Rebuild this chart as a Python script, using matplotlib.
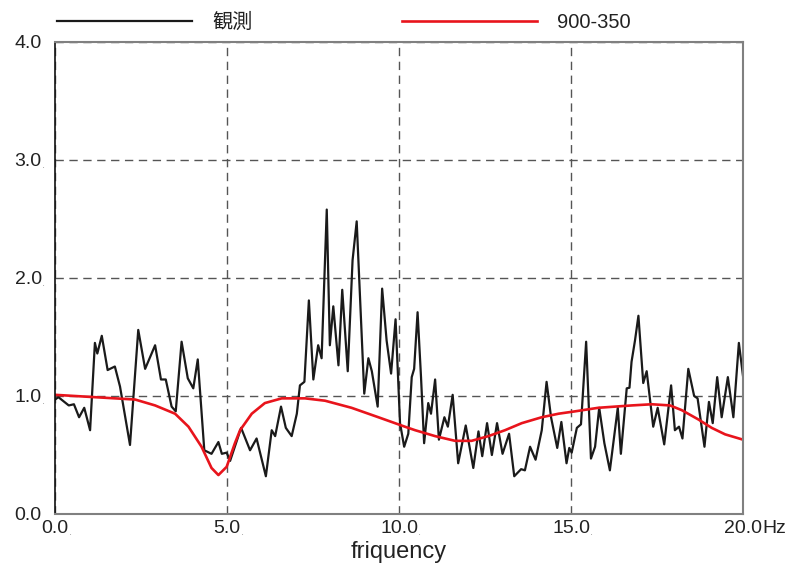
import matplotlib
matplotlib.use('Agg')
import matplotlib.pyplot as plt

plt.rcParams['font.family'] = ['Liberation Sans', 'Noto Sans CJK JP', 'DejaVu Sans']

# 観測 (observed spectrum)
obs_freq = [0.00, 0.10, 0.40, 0.55, 0.70, 0.85, 1.02, 1.16, 1.23, 1.36, 1.53, 1.74, 1.89, 2.18,
            2.42, 2.62, 2.91, 3.08, 3.22, 3.39, 3.51, 3.68, 3.86, 4.02, 4.15, 4.34, 4.55, 4.75,
            4.85, 4.99, 5.09, 5.41, 5.67, 5.86, 6.13, 6.30, 6.40, 6.57, 6.71, 6.88, 7.03, 7.12,
            7.25, 7.38, 7.51, 7.65, 7.75, 7.90, 7.99, 8.09, 8.24, 8.35, 8.51, 8.65, 8.77, 8.99,
            9.11, 9.21, 9.38, 9.51, 9.64, 9.77, 9.90, 10.03, 10.15, 10.27, 10.37, 10.44, 10.54,
            10.64, 10.73, 10.85, 10.93, 11.05, 11.16, 11.32, 11.42, 11.56, 11.72, 11.94, 12.16,
            12.31, 12.42, 12.56, 12.70, 12.85, 13.01, 13.20, 13.35, 13.55, 13.66, 13.81, 13.97,
            14.15, 14.29, 14.42, 14.60, 14.72, 14.87, 14.95, 15.02, 15.17, 15.29, 15.44, 15.58,
            15.70, 15.82, 15.97, 16.13, 16.36, 16.45, 16.62, 16.70, 16.76, 16.86, 16.96, 17.10,
            17.20, 17.39, 17.52, 17.71, 17.91, 18.02, 18.14, 18.24, 18.41, 18.58, 18.68, 18.88,
            19.01, 19.12, 19.25, 19.38, 19.56, 19.72, 19.88, 20.00]
obs_amp = [0.97, 0.99, 0.92, 0.93, 0.82, 0.90, 0.71, 1.45, 1.36, 1.51, 1.22, 1.25, 1.08, 0.585,
           1.56, 1.23, 1.43, 1.14, 1.14, 0.91, 0.87, 1.46, 1.15, 1.065, 1.31, 0.54, 0.51, 0.61,
           0.51, 0.52, 0.45, 0.73, 0.54, 0.64, 0.32, 0.71, 0.66, 0.91, 0.73, 0.66, 0.85, 1.09,
           1.12, 1.81, 1.14, 1.43, 1.32, 2.58, 1.43, 1.76, 1.26, 1.90, 1.21, 2.15, 2.48, 1.02,
           1.32, 1.21, 0.91, 1.91, 1.47, 1.19, 1.65, 0.77, 0.57, 0.68, 1.16, 1.23, 1.71,
           1.16, 0.60, 0.94, 0.85, 1.14, 0.63, 0.82, 0.74, 1.01, 0.43, 0.75, 0.39,
           0.70, 0.49, 0.77, 0.50, 0.77, 0.51, 0.68, 0.32, 0.38, 0.37, 0.57, 0.46,
           0.71, 1.12, 0.82, 0.56, 0.78, 0.43, 0.56, 0.52, 0.73, 0.76, 1.46, 0.47,
           0.57, 0.90, 0.60, 0.37, 0.90, 0.51, 1.065, 1.07, 1.29, 1.47, 1.68, 1.11,
           1.21, 0.74, 0.90, 0.59, 1.09, 0.71, 0.74, 0.64, 1.23, 1.00, 0.98, 0.57,
           0.95, 0.77, 1.16, 0.82, 1.16, 0.82, 1.45, 1.17]

# 900-350 (model)
mod_freq = [0.00, 1.16, 2.33, 2.91, 3.49, 3.88, 4.26, 4.55, 4.75, 4.99, 5.23, 5.38, 5.72, 6.10,
            6.59, 7.27, 7.85, 8.62, 9.40, 10.17, 10.47, 11.05, 11.63, 12.11, 12.60, 13.08,
            13.57, 14.15, 14.64, 15.12, 15.79, 16.76, 17.35, 17.88, 18.22, 18.71, 19.09,
            19.48, 20.00]
mod_amp = [1.01, 0.99, 0.97, 0.92, 0.85, 0.74, 0.57, 0.39, 0.33, 0.40, 0.60, 0.71, 0.85, 0.94,
           0.98, 0.98, 0.96, 0.90, 0.82, 0.74, 0.71, 0.66, 0.62, 0.62, 0.66, 0.71,
           0.77, 0.82, 0.85, 0.87, 0.90, 0.92, 0.93, 0.92, 0.88, 0.80, 0.73,
           0.675, 0.63]

x_ticks = [0, 5, 10, 15, 20]
x_labels = ['0.0', '5.0', '10.0', '15.0', '20.0']
x_suffix = ['.', '.', '.', '.', 'Hz']
y_ticks = [0, 1, 2, 3, 4]
y_labels = ['0.0', '1.0', '2.0', '3.0', '4.0']
y_suffix = ['', '.', '.', '.', '']

fig = plt.figure(figsize=(7.93, 5.74), dpi=100)
ax = fig.add_axes([55 / 793, 60 / 574, 688 / 793, 472 / 574])

ax.plot(obs_freq, obs_amp, color='#1a1a1a', lw=1.6, label='観測')
ax.plot(mod_freq, mod_amp, color='#e8141c', lw=1.9, label='900-350')

ax.set_xlim(0, 20)
ax.set_ylim(0, 4)
ax.set_xticks(x_ticks)
ax.set_xticklabels(x_labels, fontsize=14, color='#222222')
ax.set_yticks(y_ticks)
ax.set_yticklabels(y_labels, fontsize=14, color='#222222')
ax.tick_params(axis='both', length=0)
ax.tick_params(axis='x', pad=4.5)
ax.tick_params(axis='y', pad=9.5)

ax.grid(True, color='#555555', linestyle=(0, (6, 4)), lw=1.0)

for side in ['top', 'right', 'bottom']:
    ax.spines[side].set_color('#808080')
    ax.spines[side].set_linewidth(1.5)
ax.spines['left'].set_color('#111111')
ax.spines['left'].set_linewidth(1.2)

# small suffixes after tick labels
for lab, suf in list(zip(ax.get_xticklabels(), x_suffix)) + list(zip(ax.get_yticklabels(), y_suffix)):
    if suf == '.':
        ax.annotate(suf, xy=(1, 0), xycoords=lab, ha='left', va='bottom',
                    fontsize=8, color='#999999')
    elif suf:
        ax.annotate(suf, xy=(1, 0), xycoords=lab, ha='left', va='bottom',
                    fontsize=14, color='#222222')

fig.text(399 / 793, 1 - 552 / 574, 'friquency', ha='center', va='center',
         fontsize=17, color='#222222')

leg = ax.legend(loc='lower left', bbox_to_anchor=(-0.012, 1.0), ncol=2, frameon=False,
                fontsize=14.5, handlelength=6.7, handletextpad=1.0, columnspacing=7.45,
                borderpad=0.2, borderaxespad=0.3)
for t in leg.get_texts():
    t.set_color('#222222')

fig.savefig('out.png', dpi=100)
